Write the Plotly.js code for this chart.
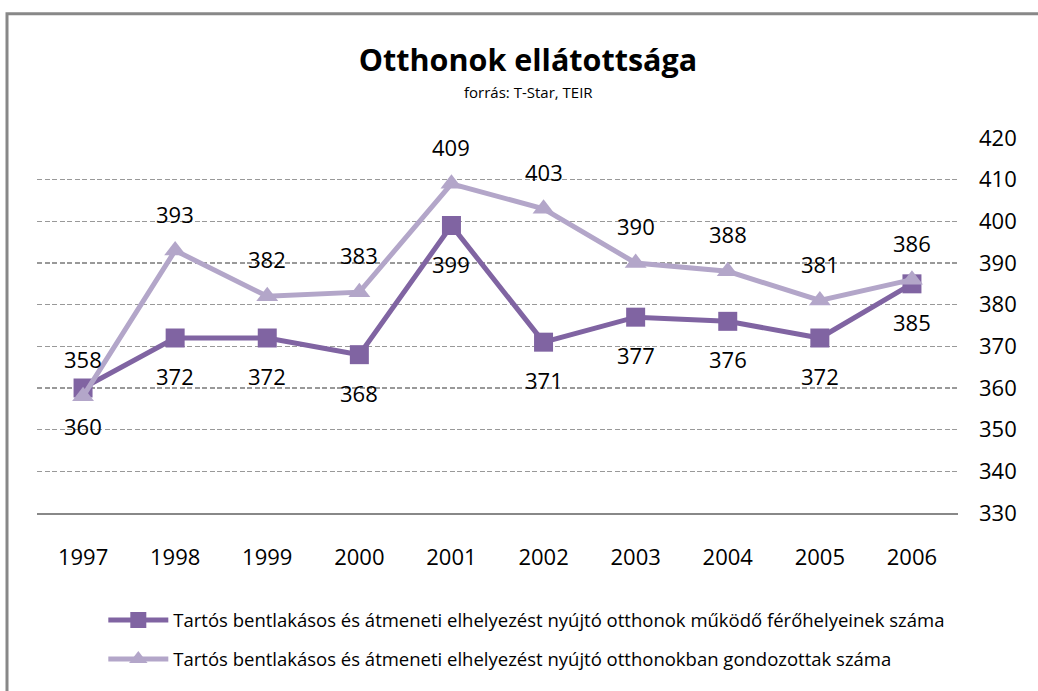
<!DOCTYPE html>
<html>
<head>
<meta charset="utf-8">
<script src="https://cdn.plot.ly/plotly-3.0.1.min.js"></script>
<style>html,body{margin:0;padding:0;background:#fff}#chart{width:1038px;height:691px}</style>
</head>
<body>
<div id="chart"></div>
<script>
const years = ['1997','1998','1999','2000','2001','2002','2003','2004','2005','2006'];
const ferohely = [360, 372, 372, 368, 399, 371, 377, 376, 372, 385];
const gondozott = [358, 393, 382, 383, 409, 403, 390, 388, 381, 386];
const seriesNames = [
  'Tartós bentlakásos és átmeneti elhelyezést nyújtó otthonok működő férőhelyeinek száma',
  'Tartós bentlakásos és átmeneti elhelyezést nyújtó otthonokban gondozottak száma'
];
const yTicks = [330, 340, 350, 360, 370, 380, 390, 400, 410, 420];

const FONT = '"Open Sans", Carlito, Calibri, sans-serif';
const DARK = '#8064A2';
const LIGHT = '#B3A6C9';

const traces = [
  {
    x: years, y: ferohely, name: seriesNames[0], type: 'scatter', mode: 'lines+markers',
    line: {color: DARK, width: 5}, marker: {symbol: 'square', size: 19, color: DARK},
    legendgroup: 'a'
  },
  {
    x: years, y: gondozott, name: seriesNames[1], type: 'scatter', mode: 'lines+markers',
    line: {color: LIGHT, width: 5}, marker: {symbol: 'triangle-up', size: 19, color: LIGHT},
    legendgroup: 'b'
  }
];

const annotations = [];
years.forEach((yr, i) => {
  annotations.push({x: i, y: ferohely[i], text: String(ferohely[i]), showarrow: false,
    yshift: -38, font: {family: FONT, size: 22, color: '#000'}});
  annotations.push({x: i, y: gondozott[i], text: String(gondozott[i]), showarrow: false,
    yshift: 37, font: {family: FONT, size: 22, color: '#000'}});
});
annotations.push({xref: 'paper', yref: 'paper', x: (528 - 37) / 921, y: (515 - 92) / 377, text: 'forrás: T-Star, TEIR',
  showarrow: false, xanchor: 'center', yanchor: 'middle', font: {family: FONT, size: 15, color: '#000'}});

const layout = {
  width: 1038, height: 691,
  margin: {l: 37, r: 80, t: 138, b: 176},
  paper_bgcolor: '#fff', plot_bgcolor: '#fff',
  font: {family: FONT, color: '#000'},
  title: {text: '<b>Otthonok ellátottsága</b>', font: {family: FONT, size: 30.5, color: '#000'},
    x: 528 / 1038, xref: 'container', xanchor: 'center', y: 1 - 60 / 691, yref: 'container', yanchor: 'middle'},
  xaxis: {
    type: 'category', range: [-0.5, 9.5], showgrid: false, zeroline: false,
    showline: true, linecolor: '#888', linewidth: 2,
    ticks: '', ticklabelstandoff: 24,
    tickfont: {family: FONT, size: 22, color: '#000'}
  },
  yaxis: {
    side: 'right', range: [330, 420], tickvals: yTicks, ticktext: yTicks.map(String),
    showgrid: true, gridcolor: '#999999', griddash: '5px,2.5px', gridwidth: 1.5,
    zeroline: false, showline: false, ticks: '', ticklabelstandoff: 20,
    tickfont: {family: FONT, size: 22, color: '#000'}
  },
  showlegend: true,
  legend: {
    orientation: 'v', x: 0.072, xanchor: 'left', y: (515 - 604) / 377, yanchor: 'top',
    itemwidth: 60,
    font: {family: FONT, size: 18.5, color: '#000'}, tracegroupgap: 12, bgcolor: 'rgba(0,0,0,0)'
  },
  annotations: annotations,
  shapes: [{
    type: 'rect', xref: 'paper', yref: 'paper', layer: 'below',
    x0: (7 - 37) / 921, x1: 1.3, y0: -0.6, y1: (515 - 13) / 377,
    line: {color: '#888', width: 3}, fillcolor: 'rgba(0,0,0,0)'
  }]
};

Plotly.newPlot('chart', traces, layout, {displayModeBar: false, staticPlot: true});
</script>
</body>
</html>
